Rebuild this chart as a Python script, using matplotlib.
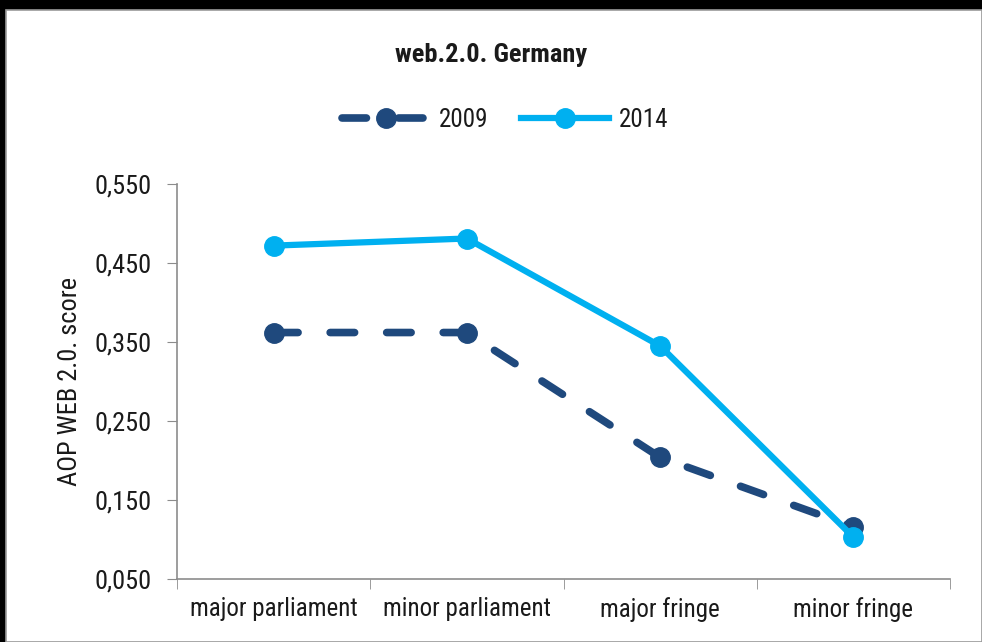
import matplotlib.pyplot as plt
from matplotlib.patches import Rectangle

categories = ["major parliament", "minor parliament", "major fringe", "minor fringe"]
score_2009 = [0.362, 0.362, 0.204, 0.116]
score_2014 = [0.472, 0.481, 0.345, 0.103]
yticks = [0.05, 0.15, 0.25, 0.35, 0.45, 0.55]

plt.rcParams['font.family'] = ['Roboto Condensed', 'DejaVu Sans']
plt.rcParams['text.color'] = '#1a1a1a'

fig = plt.figure(figsize=(9.82, 6.42), dpi=100, facecolor='black')
W, H = 982, 642
# white chart panel on the black frame
fig.patches.append(Rectangle((6 / W, 0), 1 - 6 / W, 1 - 10 / H, transform=fig.transFigure,
                             facecolor='white', edgecolor='#9a9a9a', linewidth=1.2, zorder=-1))

ax = fig.add_axes([177 / W, 1 - 579 / H, (950 - 177) / W, (579 - 184) / H])
ax.set_facecolor('white')

x = list(range(len(categories)))
ax.plot(x, score_2009, color='#1f497d', linewidth=5.5, dashes=(3.2, 4.2),
        dash_capstyle='round', marker='o', markersize=14, label='2009', zorder=3)
ax.plot(x, score_2014, color='#00b0f0', linewidth=4.5,
        marker='o', markersize=14, label='2014', zorder=4)

ax.set_xlim(-0.5, len(categories) - 0.5)
ax.set_ylim(0.05, 0.55)
ax.set_yticks(yticks)
ax.set_yticklabels([f"{v:.3f}".replace('.', ',') for v in yticks], fontsize=19, color='#1a1a1a')
ax.set_xticks(x)
ax.set_xticklabels(categories, fontsize=18, color='#1a1a1a')
ax.set_xticks([i - 0.5 for i in range(len(categories) + 1)], minor=True)
ax.tick_params(axis='x', which='major', length=0, pad=13)
ax.tick_params(axis='x', which='minor', length=7, color='#8c8c8c', direction='out')
ax.tick_params(axis='y', length=7, color='#8c8c8c', direction='out', pad=11)

for s in ['top', 'right']:
    ax.spines[s].set_visible(False)
for s in ['left', 'bottom']:
    ax.spines[s].set_color('#8c8c8c')
    ax.spines[s].set_linewidth(1.2)

ax.set_ylabel('AOP WEB 2.0. score', fontsize=19, labelpad=9, color='#1a1a1a')

fig.text(0.5, 1 - 55 / H, 'web.2.0. Germany', ha='center', va='center',
         fontsize=19, fontweight='bold')
fig.legend(loc='center', bbox_to_anchor=(505 / W, 1 - 120 / H), ncol=2, frameon=False,
           fontsize=18, handlelength=3.5, columnspacing=1.3, handletextpad=0.4)

fig.savefig('out.png', dpi=100, facecolor=fig.get_facecolor())
